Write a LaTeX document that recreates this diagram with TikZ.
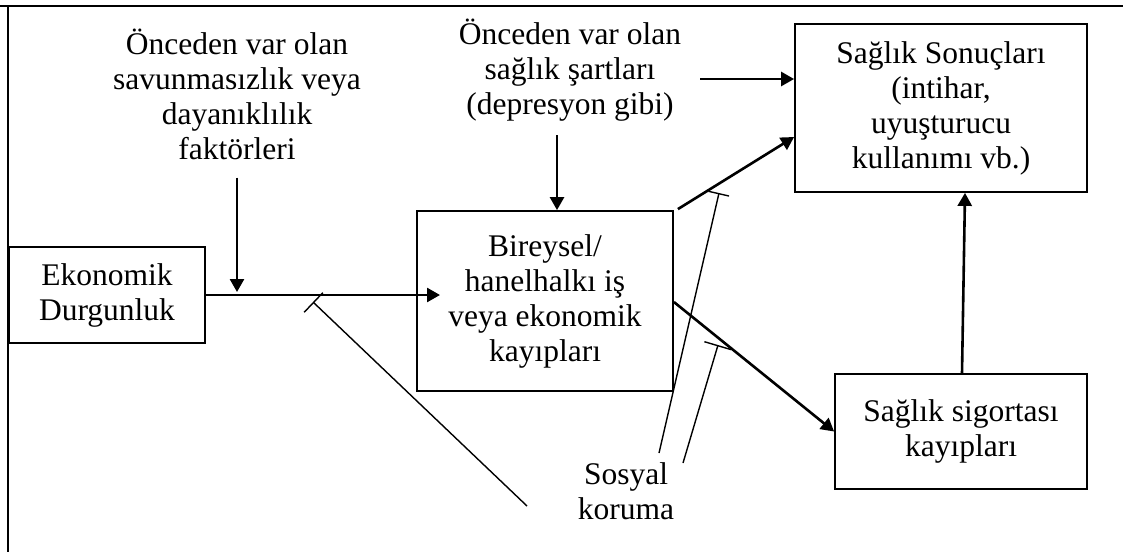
\documentclass[tikz,border=0pt]{standalone}
\usepackage{fontspec}
\setmainfont{Liberation Serif}
\usetikzlibrary{arrows.meta}
\begin{document}
\begin{tikzpicture}[x=1pt,y=-1pt,
  txt/.style={align=center,inner sep=0pt,font=\fontsize{31.5}{35}\selectfont},
  box/.style={txt,draw,line width=1.8pt},
  arr/.style={line width=2.6pt,-{Triangle[length=13pt,width=14pt]}},
  inh/.style={line width=1.4pt,-{Bar[width=#1,line width=1.4pt]}},
  frame/.style={line width=2pt}]
\useasboundingbox (0,0) rectangle (1123,552);

% outer frame (top and left edges)
\coordinate (ftl) at (8,6);
\coordinate (ftr) at (1123,6);
\coordinate (fbl) at (8,552);
\draw[frame] (0,6) -- (ftr);
\draw[frame] (ftl) -- (fbl);

% boxes
\node[box,minimum width=196pt,minimum height=96pt] (eko) at (107,295) {Ekonomik\\Durgunluk};
\node[box,minimum width=256pt,minimum height=180pt] (bir) at (545,301) {Bireysel/\\hanelhalkı iş\\veya ekonomik\\kayıpları};
\node[box,minimum width=292pt,minimum height=168pt] (son) at (941,108) {Sağlık Sonuçları\\(intihar,\\uyuşturucu\\kullanımı vb.)};
\node[box,minimum width=252pt,minimum height=115pt] (sig) at (961,431.5) {Sağlık sigortası\\kayıpları};

% free labels
\node[txt] (t1) at (237,94) {Önceden var olan\\savunmasızlık veya\\dayanıklılık\\faktörleri};
\node[txt] (t2) at (570,70) {Önceden var olan\\sağlık şartları\\(depresyon gibi)};
\node[txt] (sos) at (626,491) {Sosyal\\koruma};

% main causal arrows
\coordinate (hit) at (440,295);
\draw[arr] (eko.east) -- (hit);
\coordinate (join) at (237,292);
\draw[arr,shorten <=18pt] (t1.south) -- (join);
\draw[arr,shorten <=14pt] ([xshift=-13pt]t2.south) -- ([xshift=12pt]bir.north);
\coordinate (c4) at (700,79);
\draw[arr] (c4) -- (c4 -| son.west);
\draw[arr] ([xshift=4pt,yshift=1pt]bir.north east) -- ([yshift=-29pt]son.west);
\draw[arr] ([yshift=-1pt]bir.east) -- (sig.west);
\draw[arr] ([xshift=1pt]sig.north) -- ([xshift=24pt]son.south);

% social protection: inhibiting links
\coordinate (s1) at (527,506);
\coordinate (s2) at (659,453);
\coordinate (s3) at (683,463);
\coordinate (p1) at (313,302);
\coordinate (p2) at (719,193);
\coordinate (p3) at (718,345);
\draw[inh=27pt] (s1) -- (p1);
\draw[inh=21pt] (s2) -- (p2);
\draw[inh=28pt] (s3) -- (p3);
\end{tikzpicture}
\end{document}
